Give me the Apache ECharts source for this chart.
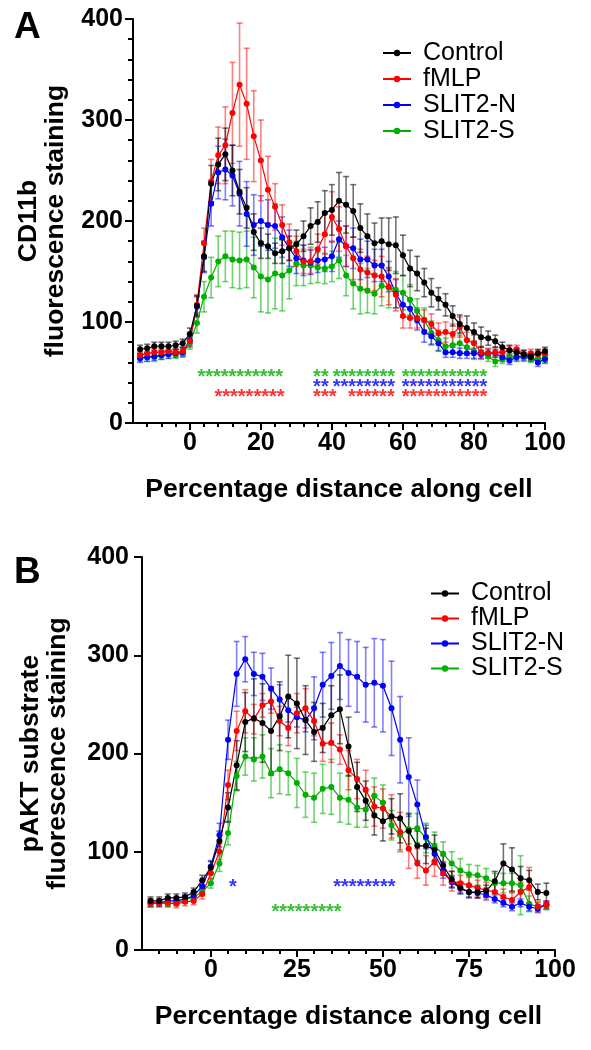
<!DOCTYPE html>
<html><head><meta charset="utf-8">
<script src="https://cdn.jsdelivr.net/npm/echarts@6/dist/echarts.min.js"></script>
<style>html,body{margin:0;padding:0;background:#fff}#c{width:591px;height:1050px}</style>
</head><body><div id="c"></div>
<script>
// ---------- Panel A data (CD11b) ----------
const xA = [-14,-12,-10,-8,-6,-4,-2,0,2,4,6,8,10,12,14,16,18,20,22,24,26,28,30,32,34,36,38,40,42,44,46,48,50,52,54,56,58,60,62,64,66,68,70,72,74,76,78,80,82,84,86,88,90,92,94,96,98,100];
const controlA = [73,74,76,76,76,77,79,88,116,165,237,256,266,250,229,213,189,178,175,168,170,173,177,185,195,199,208,211,220,216,210,193,185,178,180,177,176,166,153,148,139,129,123,117,106,98,94,90,85,84,81,75,72,70,68,66,69,71];
const controlAErr = [4,4,4,4,4,4,4,6,10,15,18,26,26,25,22,20,18,15,12,10,12,12,14,15,18,20,22,25,28,28,26,24,22,20,23,26,28,20,18,17,14,14,11,11,10,9,12,9,10,7,6,5,5,4,4,4,4,4];
const fmlpA = [67,69,70,70,71,70,71,81,117,178,239,265,275,307,335,316,284,260,231,214,196,179,170,160,160,172,187,204,192,175,163,152,149,146,145,135,127,106,104,104,102,98,89,90,88,95,82,79,70,69,70,70,72,73,68,69,68,69];
const fmlpAErr = [4,4,4,4,4,4,4,6,10,15,22,28,38,50,61,55,45,40,33,23,20,18,15,12,12,15,20,25,22,20,21,20,16,15,20,18,16,12,10,10,10,10,10,10,10,10,8,8,6,5,5,5,4,4,4,4,4,4];
const slit2nA = [64,65,66,67,68,69,70,82,115,164,217,248,251,245,227,207,196,200,196,195,184,173,163,161,159,161,162,165,182,175,173,162,162,156,156,145,128,117,113,102,90,86,79,70,70,69,69,69,68,69,69,65,62,65,66,65,60,63];
const slit2nAErr = [4,4,4,4,4,4,4,6,10,15,22,26,30,30,32,32,30,25,25,22,20,18,15,15,12,12,12,15,18,20,20,20,18,16,16,15,14,12,10,10,10,8,8,5,5,5,5,5,4,4,4,4,4,4,4,4,4,4];
const slit2sA = [65,65,65,67,68,68,69,79,99,125,144,160,165,162,161,162,154,145,142,148,146,151,158,156,156,154,153,155,161,146,138,133,131,128,136,134,132,129,122,111,102,89,82,76,77,79,75,71,69,66,61,63,65,66,65,64,63,64];
const slit2sAErr = [4,4,4,4,4,4,4,6,10,15,20,25,25,28,28,28,30,35,33,35,35,28,22,20,18,15,15,15,18,20,25,25,22,20,20,20,18,17,15,12,12,12,10,8,8,8,8,8,6,5,5,4,4,4,4,4,4,4];
// significance groups: [centre x, number of asterisks]
const starsAGreen = [[14.2,11],[36.9,2],[49,8],[71.7,11]];
const starsABlue = [[36.9,2],[49,8],[71.7,11]];
const starsARed = [[16.8,9],[38,3],[51.1,6],[71.7,11]];
const xTicksA = [0,20,40,60,80,100];
const xMinorA = [-12,-8,-4,4,8,12,16,24,28,32,36,44,48,52,56,64,68,72,76,84,88,92,96];

// ---------- Panel B data (pAKT substrate) ----------
const xB = [-17.5,-15,-12.5,-10,-7.5,-5,-2.5,0,2.5,5,7.5,10,12.5,15,17.5,20,22.5,25,27.5,30,32.5,35,37.5,40,42.5,45,47.5,50,52.5,55,57.5,60,62.5,65,67.5,70,72.5,75,77.5,80,82.5,85,87.5,90,92.5,95,97.5];
const controlB = [50,50,53,53,54,59,71,84,111,145,188,232,236,231,223,238,258,251,234,222,226,239,245,207,166,152,137,131,136,134,121,106,106,102,86,72,63,59,59,60,70,88,82,73,71,59,58];
const controlBErr = [4,4,4,4,4,4,5,6,10,15,25,30,40,40,45,35,42,46,35,30,25,30,35,30,25,20,20,20,18,25,18,15,18,15,10,8,6,6,6,6,10,20,22,12,10,8,10];
const fmlpB = [48,48,48,47,49,50,57,78,100,168,223,243,235,249,253,233,226,241,246,233,210,211,204,183,174,163,146,144,136,120,103,88,81,90,78,70,68,66,63,61,59,54,51,59,64,44,46];
const fmlpBErr = [4,4,4,4,4,4,5,6,8,15,20,22,15,12,12,15,18,20,20,15,18,20,15,20,20,20,20,20,22,20,20,15,15,15,12,10,8,8,8,8,8,8,8,10,20,5,4];
const slit2nB = [48,48,50,50,52,55,65,85,117,214,281,296,281,278,266,255,244,237,234,246,270,279,289,282,278,270,272,269,246,214,176,148,115,98,81,69,63,59,58,56,52,48,44,48,44,42,46];
const slit2nBErr = [4,4,4,4,4,4,5,6,12,20,33,23,22,24,21,15,12,10,12,32,33,34,34,34,36,38,45,47,48,44,40,25,12,10,8,6,5,5,5,5,4,4,4,4,4,4,4];
const slit2sB = [47,48,47,48,51,54,59,68,88,119,177,197,194,197,180,184,180,170,158,155,164,166,155,153,145,143,157,150,127,117,123,124,114,105,98,88,81,77,76,73,68,68,68,66,47,44,45];
const slit2sBErr = [3,3,3,3,3,3,4,5,8,12,15,19,22,22,25,25,22,25,23,25,25,28,25,25,20,18,18,18,15,15,15,15,15,15,12,12,12,10,10,10,10,10,10,30,8,4,4];
const starsBBlue = [[6.4,1],[44.6,8]];
const starsBGreen = [[27.8,9]];
const xTicksB = [0,25,50,75,100];
const xMinorB = [-15,-10,-5,5,10,15,20,30,35,40,45,55,60,65,70,80,85,90,95];

const names = ['Control','fMLP','SLIT2-N','SLIT2-S'];
const colors = {'Control':'#000000','fMLP':'#ff0000','SLIT2-N':'#0000ff','SLIT2-S':'#00b000'};
const errColors = {'Control':'rgba(0,0,0,0.55)','fMLP':'rgba(255,0,0,0.5)','SLIT2-N':'rgba(0,0,255,0.5)','SLIT2-S':'rgba(0,176,0,0.55)'};
const FONT = '"Liberation Sans", Arial, Helvetica, sans-serif';

function lineS(name, xs, ys, xi, yi, z){
  return {type:'line', name, xAxisIndex:xi, yAxisIndex:yi, data: xs.map((v,i)=>[v, ys[i]]),
    symbol:'circle', symbolSize:6, showSymbol:true, color:colors[name],
    lineStyle:{width:1.2, color:colors[name]}, itemStyle:{color:colors[name]}, z:z, silent:true, animation:false};
}
function errS(name, xs, ys, es, xi, yi, z){
  const col = errColors[name];
  return {type:'custom', name:name+' SEM', xAxisIndex:xi, yAxisIndex:yi, z:z, silent:true, animation:false,
    data: xs.map((v,i)=>[v, ys[i]-es[i], ys[i]+es[i]]),
    encode:{x:0, y:[1,2]},
    renderItem:function(params, api){
      const lo = api.coord([api.value(0), api.value(1)]);
      const hi = api.coord([api.value(0), api.value(2)]);
      const w = 3;
      const st = {stroke:col, lineWidth:1.6};
      return {type:'group', children:[
        {type:'line', shape:{x1:lo[0], y1:lo[1], x2:hi[0], y2:hi[1]}, style:st},
        {type:'line', shape:{x1:lo[0]-w, y1:lo[1], x2:lo[0]+w, y2:lo[1]}, style:st},
        {type:'line', shape:{x1:hi[0]-w, y1:hi[1], x2:hi[0]+w, y2:hi[1]}, style:st}
      ]};
    }};
}
function starS(groups, level, color, xi, yi){
  return {type:'scatter', xAxisIndex:xi, yAxisIndex:yi, silent:true, animation:false, z:5,
    symbolSize:1, itemStyle:{color:'rgba(0,0,0,0)'},
    data: groups.map(g=>[g[0], level, g[1]]),
    label:{show:true, position:'inside', color:color, fontSize:20, fontWeight:'bold', fontFamily:FONT,
      formatter:p=>'*'.repeat(p.value[2])}};
}

const axisLineStyle = {show:true, onZero:false, lineStyle:{color:'#000', width:2}};
const labelStyle = {color:'#000', fontSize:25, fontWeight:'bold', fontFamily:FONT};
const nameStyle = {color:'#000', fontSize:26.5, fontWeight:'bold', fontFamily:FONT};

function xMajor(grid, min, max, ticks){
  return {type:'value', gridIndex:grid, min, max, position:'bottom',
    axisLine:axisLineStyle,
    axisTick:{show:true, customValues:ticks, length:7, lineStyle:{color:'#000', width:2}},
    axisLabel:Object.assign({show:true, customValues:ticks, margin:8}, labelStyle),
    splitLine:{show:false},
    name:'Percentage distance along cell', nameLocation:'middle', nameGap:53, nameTextStyle:nameStyle};
}
function xMinor(grid, min, max, ticks){
  return {type:'value', gridIndex:grid, min, max, position:'bottom', offset:0,
    axisLine:{show:false, onZero:false},
    axisTick:{show:true, customValues:ticks, length:4, lineStyle:{color:'#000', width:2}},
    axisLabel:{show:false}, splitLine:{show:false}};
}
function yAx(grid, name, gap, minor, margin){
  return {type:'value', gridIndex:grid, min:0, max:400, interval:100, position:'left',
    axisLine:axisLineStyle,
    axisTick:{show:true, length:8, lineStyle:{color:'#000', width:2}},
    minorTick:{show:minor, splitNumber:5, length:5, lineStyle:{color:'#000', width:2}},
    axisLabel:Object.assign({margin:margin}, labelStyle),
    splitLine:{show:false}, minorSplitLine:{show:false},
    name:name, nameLocation:'middle', nameRotate:90, nameGap:gap,
    nameTextStyle:Object.assign({lineHeight:27, align:'center'}, nameStyle)};
}

const series = [];
// Panel A
series.push(errS('SLIT2-S', xA, slit2sA, slit2sAErr, 0, 0, 1));
series.push(errS('SLIT2-N', xA, slit2nA, slit2nAErr, 0, 0, 1));
series.push(errS('fMLP', xA, fmlpA, fmlpAErr, 0, 0, 1));
series.push(errS('Control', xA, controlA, controlAErr, 0, 0, 1));
series.push(lineS('SLIT2-S', xA, slit2sA, 0, 0, 2));
series.push(lineS('SLIT2-N', xA, slit2nA, 0, 0, 2));
series.push(lineS('fMLP', xA, fmlpA, 0, 0, 2));
series.push(lineS('Control', xA, controlA, 0, 0, 2));
series.push(starS(starsAGreen, 45, colors['SLIT2-S'], 0, 0));
series.push(starS(starsABlue, 34.8, colors['SLIT2-N'], 0, 0));
series.push(starS(starsARed, 24.9, colors['fMLP'], 0, 0));
// Panel B
series.push(errS('SLIT2-S', xB, slit2sB, slit2sBErr, 2, 1, 1));
series.push(errS('SLIT2-N', xB, slit2nB, slit2nBErr, 2, 1, 1));
series.push(errS('fMLP', xB, fmlpB, fmlpBErr, 2, 1, 1));
series.push(errS('Control', xB, controlB, controlBErr, 2, 1, 1));
series.push(lineS('SLIT2-S', xB, slit2sB, 2, 1, 2));
series.push(lineS('SLIT2-N', xB, slit2nB, 2, 1, 2));
series.push(lineS('fMLP', xB, fmlpB, 2, 1, 2));
series.push(lineS('Control', xB, controlB, 2, 1, 2));
series.push(starS(starsBBlue, 64, colors['SLIT2-N'], 2, 1));
series.push(starS(starsBGreen, 38, colors['SLIT2-S'], 2, 1));

function legendAt(left, top, lh){
  return {show:true, orient:'vertical', left, top, data:names, itemWidth:28, itemHeight:8, itemGap:0,
    selectedMode:false,
    textStyle:{color:'#000', fontSize:25, fontFamily:FONT, lineHeight:lh, padding:[0,0,0,7]}};
}

const option = {
  animation:false,
  backgroundColor:'#fff',
  title:[
    {text:'A', left:9, top:4, textStyle:{fontSize:37, fontWeight:'bold', color:'#000', fontFamily:FONT}},
    {text:'B', left:9, top:549, textStyle:{fontSize:37, fontWeight:'bold', color:'#000', fontFamily:FONT}}
  ],
  legend:[legendAt(377, 35, 26), legendAt(425, 576, 25)],
  grid:[
    {left:133, top:19, width:412, height:404},
    {left:142, top:557, width:413, height:393}
  ],
  xAxis:[
    xMajor(0, -16, 100, xTicksA),
    xMinor(0, -16, 100, xMinorA),
    xMajor(1, -20, 100, xTicksB),
    xMinor(1, -20, 100, xMinorB)
  ],
  yAxis:[
    yAx(0, 'CD11b\nfluorescence staining', 64, true, 10),
    yAx(1, 'pAKT substrate\nfluorescence staining', 71, false, 13)
  ],
  series
};
const chart = echarts.init(document.getElementById('c'), null, {renderer:'canvas'});
chart.setOption(option);
</script></body></html>
